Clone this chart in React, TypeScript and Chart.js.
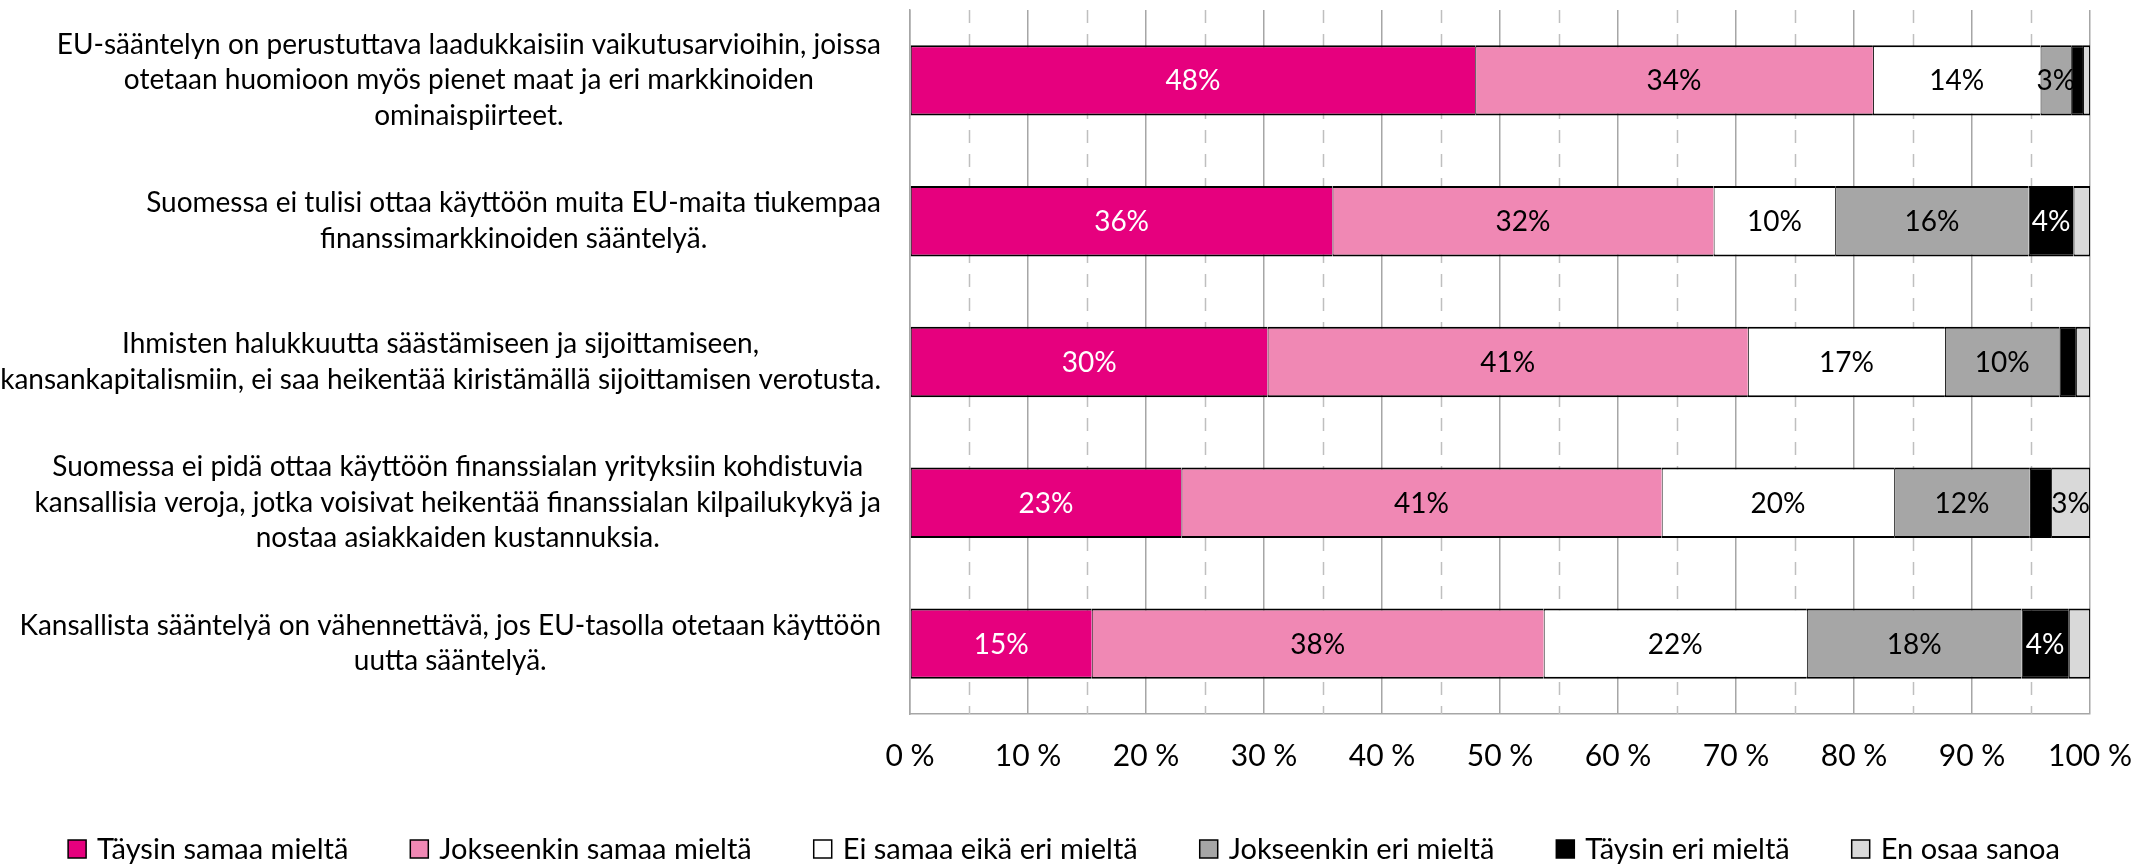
import React, { useEffect, useRef } from "react";
import { Chart, registerables } from "chart.js";

Chart.register(...registerables);

const categoryLines: string[][] = [
  [
    "EU-sääntelyn on perustuttava laadukkaisiin vaikutusarvioihin, joissa",
    "otetaan huomioon myös pienet maat ja eri markkinoiden",
    "ominaispiirteet.",
  ],
  ["Suomessa ei tulisi ottaa käyttöön muita EU-maita tiukempaa", "finanssimarkkinoiden sääntelyä."],
  [
    "Ihmisten halukkuutta säästämiseen ja sijoittamiseen,",
    "kansankapitalismiin, ei saa heikentää kiristämällä sijoittamisen verotusta.",
  ],
  [
    "Suomessa ei pidä ottaa käyttöön finanssialan yrityksiin kohdistuvia",
    "kansallisia veroja, jotka voisivat heikentää finanssialan kilpailukykyä ja",
    "nostaa asiakkaiden kustannuksia.",
  ],
  ["Kansallista sääntelyä on vähennettävä, jos EU-tasolla otetaan käyttöön", "uutta sääntelyä."],
];

const seriesNames = [
  "Täysin samaa mieltä",
  "Jokseenkin samaa mieltä",
  "Ei samaa eikä eri mieltä",
  "Jokseenkin eri mieltä",
  "Täysin eri mieltä",
  "En osaa sanoa",
];

const taysinSamaa = [47.9, 35.8, 30.3, 23.0, 15.4];
const jokseenkinSamaa = [33.7, 32.3, 40.7, 40.7, 38.3];
const eiSamaaEikaEri = [14.2, 10.3, 16.7, 19.7, 22.3];
const jokseenkinEri = [2.6, 16.4, 9.7, 11.5, 18.2];
const taysinEri = [1.0, 3.8, 1.4, 1.8, 4.0];
const enOsaa = [0.6, 1.4, 1.2, 3.3, 1.8];

const seriesValues = [taysinSamaa, jokseenkinSamaa, eiSamaaEikaEri, jokseenkinEri, taysinEri, enOsaa];
const seriesColors = ["#E6007E", "#F088B4", "#FFFFFF", "#A6A6A6", "#000000", "#D9D9D9"];
const labelColors = ["#FFFFFF", "#000000", "#000000", "#000000", "#FFFFFF", "#000000"];

const xTickValues = [0, 10, 20, 30, 40, 50, 60, 70, 80, 90, 100];
const minorGridValues = [5, 15, 25, 35, 45, 55, 65, 75, 85, 95];

const FONT = "Lato";
const CAT_FS = 28;
const VAL_FS = 28;
const TICK_FS = 30;
const LEG_FS = 29;
const LINE_H = 35.5;

const minorGridPlugin = {
  id: "minorGrid",
  beforeDatasetsDraw(chart: any) {
    const { ctx, chartArea } = chart;
    const xs = chart.scales.x;
    ctx.save();
    ctx.strokeStyle = "#BFBFBF";
    ctx.lineWidth = 1.5;
    ctx.setLineDash([13, 11]);
    minorGridValues.forEach((v) => {
      const x = Math.round(xs.getPixelForValue(v)) + 0.5;
      ctx.beginPath();
      ctx.moveTo(x, chartArea.top);
      ctx.lineTo(x, chartArea.bottom);
      ctx.stroke();
    });
    ctx.restore();
  },
};

const valueLabelPlugin = {
  id: "valueLabels",
  afterDatasetsDraw(chart: any) {
    const { ctx } = chart;
    ctx.save();
    ctx.font = `${VAL_FS}px ${FONT}`;
    ctx.textAlign = "center";
    ctx.textBaseline = "middle";
    chart.data.datasets.forEach((ds: any, di: number) => {
      const meta = chart.getDatasetMeta(di);
      meta.data.forEach((el: any, i: number) => {
        const v = ds.data[i];
        if (v < 2.5) return;
        const p = el.getCenterPoint();
        ctx.fillStyle = labelColors[di];
        ctx.fillText(`${Math.round(v)}%`, p.x, p.y + 1);
      });
    });
    ctx.restore();
  },
};

const categoryLabelPlugin = {
  id: "categoryLabels",
  afterDraw(chart: any) {
    const { ctx, chartArea } = chart;
    const ys = chart.scales.y;
    ctx.save();
    ctx.font = `${CAT_FS}px ${FONT}`;
    ctx.fillStyle = "#000";
    ctx.textAlign = "center";
    ctx.textBaseline = "middle";
    categoryLines.forEach((lines, i) => {
      const cy = ys.getPixelForValue(i);
      const w = Math.max(...lines.map((l) => ctx.measureText(l).width));
      const cx = chartArea.left - 29 - w / 2;
      lines.forEach((l, j) => {
        ctx.fillText(l, cx, cy + (j - (lines.length - 1) / 2) * LINE_H);
      });
    });
    ctx.restore();
  },
};

const legendPlugin = {
  id: "customLegend",
  afterDraw(chart: any) {
    const { ctx } = chart;
    ctx.save();
    ctx.font = `${LEG_FS}px ${FONT}`;
    ctx.textBaseline = "middle";
    ctx.textAlign = "left";
    const box = 18;
    const gapBoxText = 11;
    const gapItems = 62;
    const widths = seriesNames.map((n) => ctx.measureText(n).width);
    const total =
      widths.reduce((a, w) => a + box + gapBoxText + w, 0) + gapItems * (seriesNames.length - 1);
    let x = chart.width / 2 - 14 - total / 2;
    const y = 849;
    seriesNames.forEach((n, i) => {
      ctx.fillStyle = seriesColors[i];
      ctx.fillRect(x, y - box / 2, box, box);
      ctx.strokeStyle = "#000";
      ctx.lineWidth = 1.5;
      ctx.strokeRect(x, y - box / 2, box, box);
      ctx.fillStyle = "#000";
      ctx.fillText(n, x + box + gapBoxText, y + 1);
      x += box + gapBoxText + widths[i] + gapItems;
    });
    ctx.restore();
  },
};

export default function App() {
  const canvasRef = useRef<HTMLCanvasElement | null>(null);

  useEffect(() => {
    if (!canvasRef.current) return;
    Chart.defaults.font.family = FONT;
    const chart = new Chart(canvasRef.current, {
      type: "bar",
      data: {
        labels: categoryLines.map((l) => l.join(" ")),
        datasets: seriesNames.map((name, i) => ({
          label: name,
          data: seriesValues[i],
          backgroundColor: seriesColors[i],
          borderColor: "#000000",
          borderWidth: { top: 2, bottom: 2, left: 1, right: i === seriesNames.length - 1 ? 1 : 0 },
          borderSkipped: false,
          barPercentage: 0.5,
          categoryPercentage: 1,
        })),
      },
      options: {
        indexAxis: "y",
        animation: false,
        responsive: false,
        layout: { padding: { top: 10, right: 63, bottom: 68, left: 0 } },
        plugins: {
          legend: { display: false },
          tooltip: { enabled: false },
        },
        scales: {
          x: {
            type: "linear",
            stacked: true,
            min: 0,
            max: 100,
            afterBuildTicks: (scale: any) => {
              scale.ticks = xTickValues.map((v) => ({ value: v }));
            },
            ticks: {
              callback: (v: any) => `${v} %`,
              color: "#000",
              font: { size: TICK_FS, family: FONT },
              padding: 24,
            },
            grid: { color: "#A6A6A6", lineWidth: 1.5, drawTicks: false },
            border: { display: true, color: "#A6A6A6", width: 1.5 },
          },
          y: {
            type: "category",
            stacked: true,
            offset: true,
            ticks: { display: false },
            grid: { display: false, drawTicks: false },
            border: { display: true, color: "#A6A6A6", width: 1.5 },
            afterFit: (scale: any) => {
              scale.width = 910;
            },
          },
        },
      } as any,
      plugins: [minorGridPlugin, valueLabelPlugin, categoryLabelPlugin, legendPlugin],
    });
    return () => chart.destroy();
  }, []);

  return (
    <div style={{ position: "absolute", left: 0, top: 0, width: 2156, height: 866, background: "#fff" }}>
      <canvas ref={canvasRef} width={2156} height={866} style={{ display: "block" }} />
    </div>
  );
}
